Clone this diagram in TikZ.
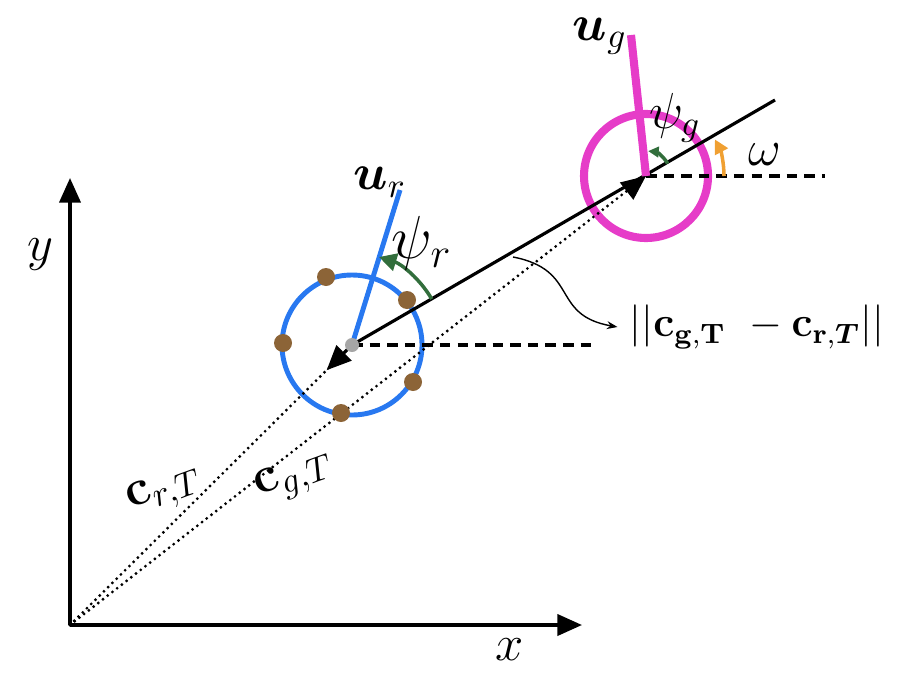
\documentclass[tikz,border=0pt]{standalone}
\usepackage{amsmath,bm}
\usetikzlibrary{calc}
\usetikzlibrary{arrows.meta}
\definecolor{robotblue}{RGB}{40,120,240}
\definecolor{goalpink}{RGB}{230,60,200}
\definecolor{dotbrown}{RGB}{140,100,55}
\definecolor{anglegreen}{RGB}{50,110,60}
\definecolor{angleorange}{RGB}{240,160,50}
\begin{document}
\begin{tikzpicture}[x=0.01cm,y=-0.01cm,font=\large]
\useasboundingbox (0,0) rectangle (904,676);

\coordinate (O) at (70,625);
\coordinate (R) at (352,345);
\coordinate (G) at (646,176);
\coordinate (E) at (775,100);

% axes
\draw[black,line width=1pt,-{Triangle[length=7pt,width=6pt]}] (O)--(70,178);
\draw[black,line width=1pt,-{Triangle[length=7pt,width=6pt]}] (O)--(582,625);
\node (ylab) at (40,255) {\Large $y$};
\node (xlab) at (510,650) {\Large $x$};

% circles
\draw[robotblue,line width=1.4pt] (R) circle (70);
\draw[goalpink,line width=2.3pt] (G) circle (62);

% position vectors
\draw[black,line width=0.9pt,line cap=round,dash pattern=on 0pt off 1.7pt] (O)--(R);
\draw[black,line width=0.9pt,line cap=round,dash pattern=on 0pt off 1.7pt,-{Triangle[length=7pt,width=6pt]}] (O)--(G);
\draw[black,line width=0.9pt,-{Triangle[length=7pt,width=6pt]}] (R)--($(R)!0.09!(O)$);
\node[rotate=20] (crT) at (165,492) {\Large $\mathbf{c}_{r,T}$};
\node[rotate=20] (cgT) at (295,478) {\Large $\mathbf{c}_{g,T}$};

% heading line and references
\draw[black,line width=0.9pt] (R)--(E);
\draw[black,line width=0.9pt,dash pattern=on 3pt off 2pt] (R)--(595,345);
\draw[black,line width=0.9pt,dash pattern=on 3pt off 2pt] (G)--(825,176);

% orientation vectors
\draw[robotblue,line width=1.4pt] (R)--(400,190);
\node (ur) at (380,182) {\Large $\bm{u}_r$};
\draw[goalpink,line width=2.3pt] (G)--(631,35);
\node (ug) at (600,36) {\Large $\bm{u}_g$};

% angles
\draw[anglegreen,line width=1pt,-{Triangle[length=5pt,width=5pt]}] (R)++(-30:92) arc(-30:-73:92);
\node (psir) at (422,243) {\LARGE $\psi_r$};
\draw[anglegreen,line width=1pt,-{Triangle[length=3pt,width=3pt]}] (G)++(-30:25) arc(-30:-85:25);
\node (psig) at (675,118) {\Large $\psi_g$};
\draw[angleorange,line width=1pt,-{Triangle[length=4pt,width=4pt]}] (G)++(0:78) arc(0:-28:78);
\node (omega) at (765,155) {\Large $\omega$};

% markers
\foreach \px/\py in {326/277,407/300,283/343,413/382,341/413}
  \fill[dotbrown] (\px,\py) circle (9);
\fill[gray!70] (R) circle (7);

% distance label
\node (dist) at (757,327) {\large $||\mathbf{c}_{\mathbf{g},\mathbf{T}}\ -\mathbf{c}_{\mathbf{r},\bm{T}}||$};
\coordinate (D) at (513,257);
\draw[black,line width=0.4pt,-{Stealth[length=3pt]}] (D) .. controls (580,270) and (550,315) .. (dist.west);

\end{tikzpicture}
\end{document}
